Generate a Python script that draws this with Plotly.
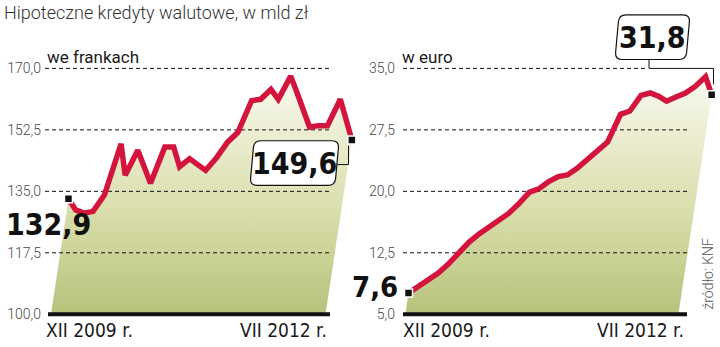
import plotly.graph_objects as go

W, H = 720, 347

TITLE = "Hipoteczne kredyty walutowe, w mld zł"
SOURCE = "źródło: KNF"
PERIOD_LABELS = ["XII 2009 r.", "VII 2012 r."]

CHF_NAME = "we frankach"
CHF_VALUES = [132.9, 129.7, 128.8, 129.3, 134.0, 148.5, 139.6, 146.7, 142.0, 137.3,
              147.6, 147.6, 142.0, 144.3, 142.6, 141.0, 144.5, 149.0, 151.8, 160.8,
              161.2, 164.0, 161.2, 167.8, 163.1, 158.0, 153.3, 153.7, 153.7, 161.2,
              155.5, 149.6]
CHF_TICKS = [100.0, 117.5, 135.0, 152.5, 170.0]

EUR_NAME = "w euro"
EUR_VALUES = [7.6, 8.4, 9.3, 10.0, 11.1, 12.6, 13.8, 14.8, 15.6, 16.4,
              17.3, 18.5, 19.9, 20.3, 21.2, 21.8, 22.0, 22.8, 23.8, 24.8,
              26.0, 29.4, 29.8, 31.7, 32.0, 31.6, 31.0, 31.5, 32.0, 32.8,
              34.0, 31.8]
EUR_TICKS = [5.0, 12.5, 20.0, 27.5, 35.0]

RED = "#d3153e"
FILL_SCALE = [[0.0, "#b6c27b"], [0.45, "#dcdfae"], [1.0, "#fbfbf4"]]
SHEAR_PX = 0.15
LABEL_FONT = "Liberation Sans Narrow, DejaVu Sans Condensed, Arial Narrow, sans-serif"
LIGHT_FONT = "Roboto, Lato, sans-serif"


def fmt(v):
    return f"{v:.1f}".replace(".", ",")


def px_x(p):
    return p / W


def px_y(p):
    return 1 - p / H


PANELS = [
    dict(name=CHF_NAME, values=CHF_VALUES, ticks=CHF_TICKS, xa="x", ya="y",
         dom=(44, 362), x0px=51.0, ppm=8.855, grid=(45, 330), top_grid_end=330,
         base=(48, 330), name_x=45, lab_l=44, lab_r=329),
    dict(name=EUR_NAME, values=EUR_VALUES, ticks=EUR_TICKS, xa="x2", ya="y2",
         dom=(398, 719), x0px=405.3, ppm=8.81, grid=(403, 687), top_grid_end=647,
         base=(403, 687), name_x=400, lab_l=401, lab_r=686),
]

Y_TOP_PX, Y_BOT_PX = 60, 322
TICK_TOP_PX, TICK_BOT_PX = 69, 317

fig = go.Figure()
layout_axes = {}
annotations = []

for k, p in enumerate(PANELS):
    vals = p["values"]
    ticks = p["ticks"]
    lo, hi = ticks[0], ticks[-1]
    n = len(vals)
    ppu = (TICK_BOT_PX - TICK_TOP_PX) / (hi - lo)
    yr = [lo - (Y_BOT_PX - TICK_BOT_PX) / ppu, hi + (TICK_TOP_PX - Y_TOP_PX) / ppu]
    x0px, ppm = p["x0px"], p["ppm"]
    xr = [(p["dom"][0] - x0px) / ppm, (p["dom"][1] - x0px) / ppm]

    def px2x(q, x0px=x0px, ppm=ppm):
        return (q - x0px) / ppm

    xs = [i + SHEAR_PX * (v - lo) * ppu / ppm for i, v in enumerate(vals)]
    xa, ya = p["xa"], p["ya"]

    # gradient area (sheared)
    fig.add_trace(go.Scatter(
        x=xs + [n - 1, 0], y=vals + [lo, lo], xaxis=xa, yaxis=ya,
        mode="lines", line=dict(width=0), fill="toself",
        fillgradient=dict(type="vertical", colorscale=FILL_SCALE, start=lo, stop=hi),
        hoverinfo="skip", showlegend=False))

    # dashed gridlines
    for t in ticks[1:]:
        end = p["top_grid_end"] if t == hi else p["grid"][1]
        fig.add_trace(go.Scatter(
            x=[px2x(p["grid"][0]), px2x(end)], y=[t, t], xaxis=xa, yaxis=ya,
            mode="lines", line=dict(color="#111111", width=1, dash="4px,3px"),
            hoverinfo="skip", showlegend=False))

    # baseline
    fig.add_trace(go.Scatter(
        x=[px2x(p["base"][0]), px2x(p["base"][1])], y=[lo, lo], xaxis=xa, yaxis=ya,
        mode="lines", line=dict(color="#111111", width=4),
        hoverinfo="skip", showlegend=False))

    # red line
    fig.add_trace(go.Scatter(
        x=xs, y=vals, xaxis=xa, yaxis=ya, mode="lines",
        line=dict(color=RED, width=5.5, shape="linear"),
        hoverinfo="skip", showlegend=False))

    # end markers
    fig.add_trace(go.Scatter(
        x=[xs[0], xs[-1]], y=[vals[0], vals[-1]], xaxis=xa, yaxis=ya, mode="markers",
        marker=dict(symbol="square", size=8, color="#111111",
                    line=dict(color="white", width=1.5)),
        hoverinfo="skip", showlegend=False, cliponaxis=False))

    suffix = "" if k == 0 else str(k + 1)
    layout_axes["xaxis" + suffix] = dict(
        domain=[px_x(p["dom"][0]), px_x(p["dom"][1])], range=xr, visible=False,
        fixedrange=True, anchor="y" + suffix)
    layout_axes["yaxis" + suffix] = dict(
        domain=[px_y(Y_BOT_PX), px_y(Y_TOP_PX)], range=yr, tickvals=ticks,
        ticktext=[fmt(t) for t in ticks], showgrid=False, zeroline=False,
        showline=False, ticks="", ticklabelstandoff=2,
        tickfont=dict(family=LIGHT_FONT, size=14, color="#4a4a4a", weight=300),
        fixedrange=True, anchor="x" + suffix)

    # panel name
    annotations.append(dict(text=p["name"], xref="paper", yref="paper",
                            x=px_x(p["name_x"]), y=px_y(58), xanchor="left",
                            yanchor="middle", showarrow=False,
                            font=dict(family=LIGHT_FONT, size=17, color="#1a1a1a")))
    # period labels
    annotations.append(dict(text=PERIOD_LABELS[0], xref="paper", yref="paper",
                            x=px_x(p["lab_l"]), y=px_y(333), xanchor="left",
                            yanchor="middle", showarrow=False,
                            font=dict(family=LABEL_FONT, size=19, color="#1a1a1a")))
    annotations.append(dict(text=PERIOD_LABELS[1], xref="paper", yref="paper",
                            x=px_x(p["lab_r"]), y=px_y(333), xanchor="right",
                            yanchor="middle", showarrow=False,
                            font=dict(family=LABEL_FONT, size=19, color="#1a1a1a")))

BIG = dict(family=LABEL_FONT, size=30, color="#111111", weight="bold")

# value labels
annotations.append(dict(text=fmt(CHF_VALUES[0]), xref="paper", yref="paper",
                        x=px_x(4), y=px_y(226), xanchor="left", yanchor="middle",
                        showarrow=False, font=BIG))
annotations.append(dict(text=fmt(EUR_VALUES[0]), xref="paper", yref="paper",
                        x=px_x(400), y=px_y(290), xanchor="right", yanchor="middle",
                        showarrow=False, font=dict(BIG, size=29)))
annotations.append(dict(text=fmt(CHF_VALUES[-1]), xref="paper", yref="paper",
                        x=px_x(294.5), y=px_y(164.5), xanchor="center", yanchor="middle",
                        showarrow=False, font=BIG))
annotations.append(dict(text=fmt(EUR_VALUES[-1]), xref="paper", yref="paper",
                        x=px_x(652.5), y=px_y(37.5), xanchor="center", yanchor="middle",
                        showarrow=False, font=BIG))

# title and source
annotations.append(dict(text=TITLE, xref="paper", yref="paper", x=px_x(2), y=px_y(13),
                        xanchor="left", yanchor="middle", showarrow=False,
                        font=dict(family=LIGHT_FONT, size=18, color="#333333", weight=300)))
annotations.append(dict(text=SOURCE, xref="paper", yref="paper", x=px_x(708), y=px_y(276),
                        xanchor="center", yanchor="middle", textangle=-90, showarrow=False,
                        font=dict(family=LIGHT_FONT, size=14, color="#555555", weight=300)))


def rounded_box(x0, y0, x1, y1, r=7, slant=2):
    def P(x, y):
        return f"{px_x(x):.5f},{px_y(y):.5f}"
    path = (f"M {P(x0 + r + slant, y0)} L {P(x1 - r + slant, y0)} "
            f"Q {P(x1 + slant, y0)} {P(x1 + slant * 0.7, y0 + r)} "
            f"L {P(x1 - slant * 0.7, y1 - r)} Q {P(x1 - slant, y1)} {P(x1 - r - slant, y1)} "
            f"L {P(x0 + r - slant, y1)} Q {P(x0 - slant, y1)} {P(x0 - slant * 0.7, y1 - r)} "
            f"L {P(x0 + slant * 0.7, y0 + r)} Q {P(x0 + slant, y0)} {P(x0 + r + slant, y0)} Z")
    return path


def polyline(points):
    return "M " + " L ".join(f"{px_x(x):.5f},{px_y(y):.5f}" for x, y in points)


shapes = [
    dict(type="path", xref="paper", yref="paper", path=rounded_box(252, 142, 337, 187),
         line=dict(color="#111111", width=1.2), fillcolor="white", layer="above"),
    dict(type="path", xref="paper", yref="paper",
         path=polyline([(337, 166), (348.5, 166), (348.5, 147)]),
         line=dict(color="#111111", width=1)),
    dict(type="path", xref="paper", yref="paper", path=rounded_box(617, 15, 688, 60),
         line=dict(color="#111111", width=1.2), fillcolor="white", layer="above"),
    dict(type="path", xref="paper", yref="paper",
         path=polyline([(649, 60), (649, 69), (713.5, 69), (713.5, 85)]),
         line=dict(color="#111111", width=1)),
]

fig.update_layout(
    width=W, height=H, margin=dict(l=0, r=0, t=0, b=0),
    paper_bgcolor="white", plot_bgcolor="rgba(0,0,0,0)",
    showlegend=False, annotations=annotations, shapes=shapes,
    hovermode=False, **layout_axes)

fig.write_html("out.html")
